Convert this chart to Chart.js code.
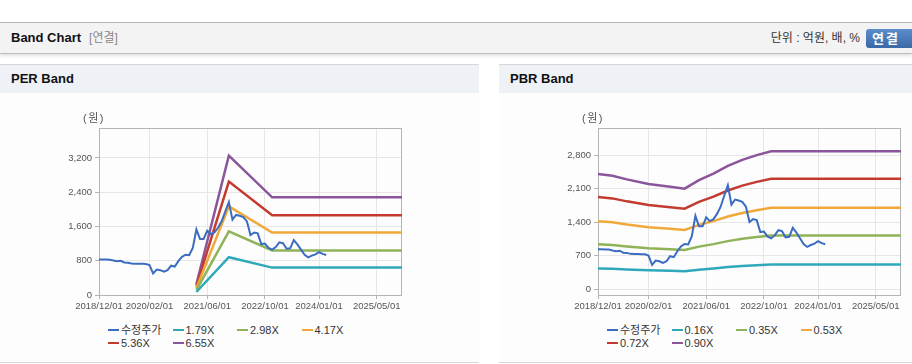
<!DOCTYPE html>
<html>
<head>
<meta charset="UTF-8">
<title>Band Chart</title>
<script src="https://cdn.jsdelivr.net/npm/chart.js@4.4.0/dist/chart.umd.min.js"></script>
<style>
body{margin:0;background:#fff;font-family:'Liberation Sans','Noto Sans CJK KR',sans-serif;}
#wrap{position:relative;width:912px;height:364px;overflow:hidden;}
.topbar{position:absolute;left:0;top:22px;width:912px;height:30px;background:#f3f3f3;border-top:1px solid #b4b4b4;border-bottom:1px solid #bdbdbd;box-shadow:0 2px 3px rgba(0,0,0,.12);}
.title{position:absolute;left:11px;top:0;line-height:30px;font-size:13px;font-weight:bold;color:#111;}
.title span{font-weight:normal;color:#888;font-size:12px;margin-left:8px;}
.unit{position:absolute;right:52px;top:0;line-height:30px;font-size:12px;color:#333;}
.btn{position:absolute;left:866px;top:6px;width:52px;height:19px;border-radius:3px;background:linear-gradient(#5c8dcc,#3b68a6);color:#fff;font-weight:bold;font-size:13px;line-height:19px;padding-left:6px;letter-spacing:2px;box-sizing:border-box;}
.panel{position:absolute;top:64px;height:297px;border-top:1px solid #d6d6d6;border-bottom:1px solid #d6d6d6;background:#fdfdfd;}
.phead{height:28px;line-height:28px;background:#eef2f7;padding-left:11px;font-weight:bold;font-size:13px;color:#111;}
canvas{position:absolute;top:93px;}
.unitlabel{position:absolute;top:111px;font-size:11px;line-height:14px;color:#555;letter-spacing:1.5px;}
.legend{position:absolute;top:324px;display:grid;grid-template-columns:64.5px 64.5px 64.5px 64.5px;grid-auto-rows:12.6px;font-size:11px;color:#333;}
.legend div{white-space:nowrap;line-height:12.6px;}
.legend i{display:inline-block;width:11px;height:2px;vertical-align:middle;margin-right:2px;margin-top:-2px;}
</style>
</head>
<body>
<div id="wrap">
	<div class="topbar">
		<div class="title">Band Chart<span>[연결]</span></div>
		<div class="unit">단위 : 억원, 배, %</div>
		<div class="btn">연결</div>
	</div>
	<div class="panel" style="left:0;width:479px"><div class="phead">PER Band</div></div>
	<div class="panel" style="left:499px;width:413px"><div class="phead">PBR Band</div></div>
	<canvas id="perChart" width="479" height="230" style="left:0"></canvas>
	<canvas id="pbrChart" width="413" height="230" style="left:499px"></canvas>
	<div class="unitlabel" style="left:83px">(원)</div>
	<div class="unitlabel" style="left:582px">(원)</div>
	<div class="legend" id="perLegend" style="left:108px"></div>
	<div class="legend" id="pbrLegend" style="left:607px"></div>
</div>

<script type="text/javascript">

	// x axis: months counted from 2018/12
	var xTickMonths = [0, 14, 30, 46, 61, 77]
	var xTickLabels = ['2018/12/01', '2020/02/01', '2021/06/01', '2022/10/01', '2024/01/01', '2025/05/01']
	var xMax = 84

	// 수정주가, monthly from 2018/12 to 2024/03
	var priceName = '수정주가'
	var price = [830, 830, 828, 825, 805, 790, 800, 760, 755, 735,
		730, 730, 728, 725, 700, 505, 595, 580, 545, 580,
		685, 665, 790, 890, 940, 930, 1100, 1530, 1310, 1310,
		1500, 1420, 1460, 1570, 1720, 1950, 2170, 1760, 1870, 1850,
		1820, 1720, 1400, 1460, 1440, 1190, 1200, 1100, 1060, 1120,
		1230, 1210, 1080, 1090, 1280, 1180, 1060, 940, 880, 920,
		950, 1000, 960, 935]

	// PER band
	var perNames = ['1.79X', '2.98X', '4.17X', '5.36X', '6.55X']
	var perMonths = [27, 36, 48, 84]
	var per179 = [70, 882, 640, 640]
	var per298 = [115, 1485, 1040, 1040]
	var per417 = [160, 2068, 1460, 1460]
	var per536 = [205, 2650, 1862, 1862]
	var per655 = [250, 3254, 2280, 2280]
	var perTicks = [0, 800, 1600, 2400, 3200]

	// PBR band
	var pbrNames = ['0.16X', '0.35X', '0.53X', '0.72X', '0.90X']
	var pbrMonths = [0, 4, 8, 14, 20, 24, 28, 32, 36, 40, 44, 48, 84]
	var pbr016 = [427, 421, 407, 390, 380, 373, 405, 429, 458, 480, 498, 512, 512]
	var pbr035 = [935, 921, 891, 854, 831, 816, 886, 938, 1001, 1050, 1089, 1120, 1120]
	var pbr053 = [1415, 1394, 1349, 1293, 1259, 1235, 1341, 1420, 1516, 1590, 1648, 1696, 1696]
	var pbr072 = [1922, 1894, 1832, 1757, 1710, 1678, 1822, 1930, 2059, 2160, 2239, 2304, 2304]
	var pbr090 = [2403, 2367, 2291, 2196, 2138, 2097, 2277, 2412, 2574, 2700, 2799, 2880, 2880]
	var pbrTicks = [0, 700, 1400, 2100, 2800]

	var colors = ['#3b6cc0', '#2fa9b9', '#8fb357', '#f0a83a', '#c23b2e', '#8b559c']

	var tickFont = {family: "'Liberation Sans', Arial, sans-serif", size: 9.5}

	var framePlugin = {
		id: 'frame',
		beforeDatasetsDraw: function(chart) {
			var a = chart.chartArea
			var c = chart.ctx
			c.save()
			c.strokeStyle = '#b4b4b4'
			c.lineWidth = 1
			c.strokeRect(Math.round(a.left) + 0.5, Math.round(a.top) + 0.5, Math.round(a.right - a.left) - 1, Math.round(a.bottom - a.top))
			c.restore()
		}
	}

	var toPoints = function(xs, ys) {
		return ys.map(function(v, i) {
			return {x: xs[i], y: v}
		})
	}

	var makeChart = function(id, bandMonths, bands, names, yMin, yMax, yTicks, rightPad) {
		var datasets = [{
			label: priceName,
			data: price.map(function(v, i) { return {x: i, y: v} }),
			borderColor: colors[0],
			borderWidth: 2
		}]
		bands.forEach(function(b, i) {
			datasets.push({
				label: names[i],
				data: toPoints(bandMonths, b),
				borderColor: colors[i + 1],
				borderWidth: 2.5
			})
		})

		return new Chart(document.getElementById(id), {
			type: 'line',
			data: {datasets: datasets},
			options: {
				responsive: false,
				animation: false,
				devicePixelRatio: 1,
				elements: {point: {radius: 0}, line: {tension: 0, fill: false}},
				layout: {padding: {left: 0, right: rightPad, top: 35, bottom: 0}},
				plugins: {legend: {display: false}, tooltip: {enabled: false}},
				scales: {
					x: {
						type: 'linear',
						min: 0,
						max: xMax,
						afterBuildTicks: function(s) {
							s.ticks = xTickMonths.map(function(v) { return {value: v} })
						},
						afterFit: function(s) { s.height = 28 },
						ticks: {
							autoSkip: false,
							maxRotation: 0,
							padding: 2,
							color: '#555',
							font: tickFont,
							callback: function(v, i) { return xTickLabels[i] }
						},
						grid: {color: '#e6e6e6', tickLength: 4, tickColor: '#b4b4b4'},
						border: {display: false}
					},
					y: {
						min: yMin,
						max: yMax,
						afterBuildTicks: function(s) {
							s.ticks = yTicks.map(function(v) { return {value: v} })
						},
						afterFit: function(s) { s.width = 99 },
						ticks: {
							padding: 3,
							color: '#555',
							font: tickFont,
							callback: function(v) { return v.toLocaleString('en-US') }
						},
						grid: {color: '#e6e6e6', tickLength: 4, tickColor: '#b4b4b4'},
						border: {display: false}
					}
				}
			},
			plugins: [framePlugin]
		})
	}

	var makeLegend = function(id, names) {
		var el = document.getElementById(id)
		var all = [priceName].concat(names)
		all.forEach(function(n, i) {
			var d = document.createElement('div')
			d.innerHTML = '<i style="background:' + colors[i] + '"></i>' + n
			el.appendChild(d)
		})
	}

	makeChart('perChart', perMonths, [per179, per298, per417, per536, per655], perNames, 0, 3900, perTicks, 77)
	makeChart('pbrChart', pbrMonths, [pbr016, pbr035, pbr053, pbr072, pbr090], pbrNames, -125, 3365, pbrTicks, 11)
	makeLegend('perLegend', perNames)
	makeLegend('pbrLegend', pbrNames)
</script>
</body>
</html>
